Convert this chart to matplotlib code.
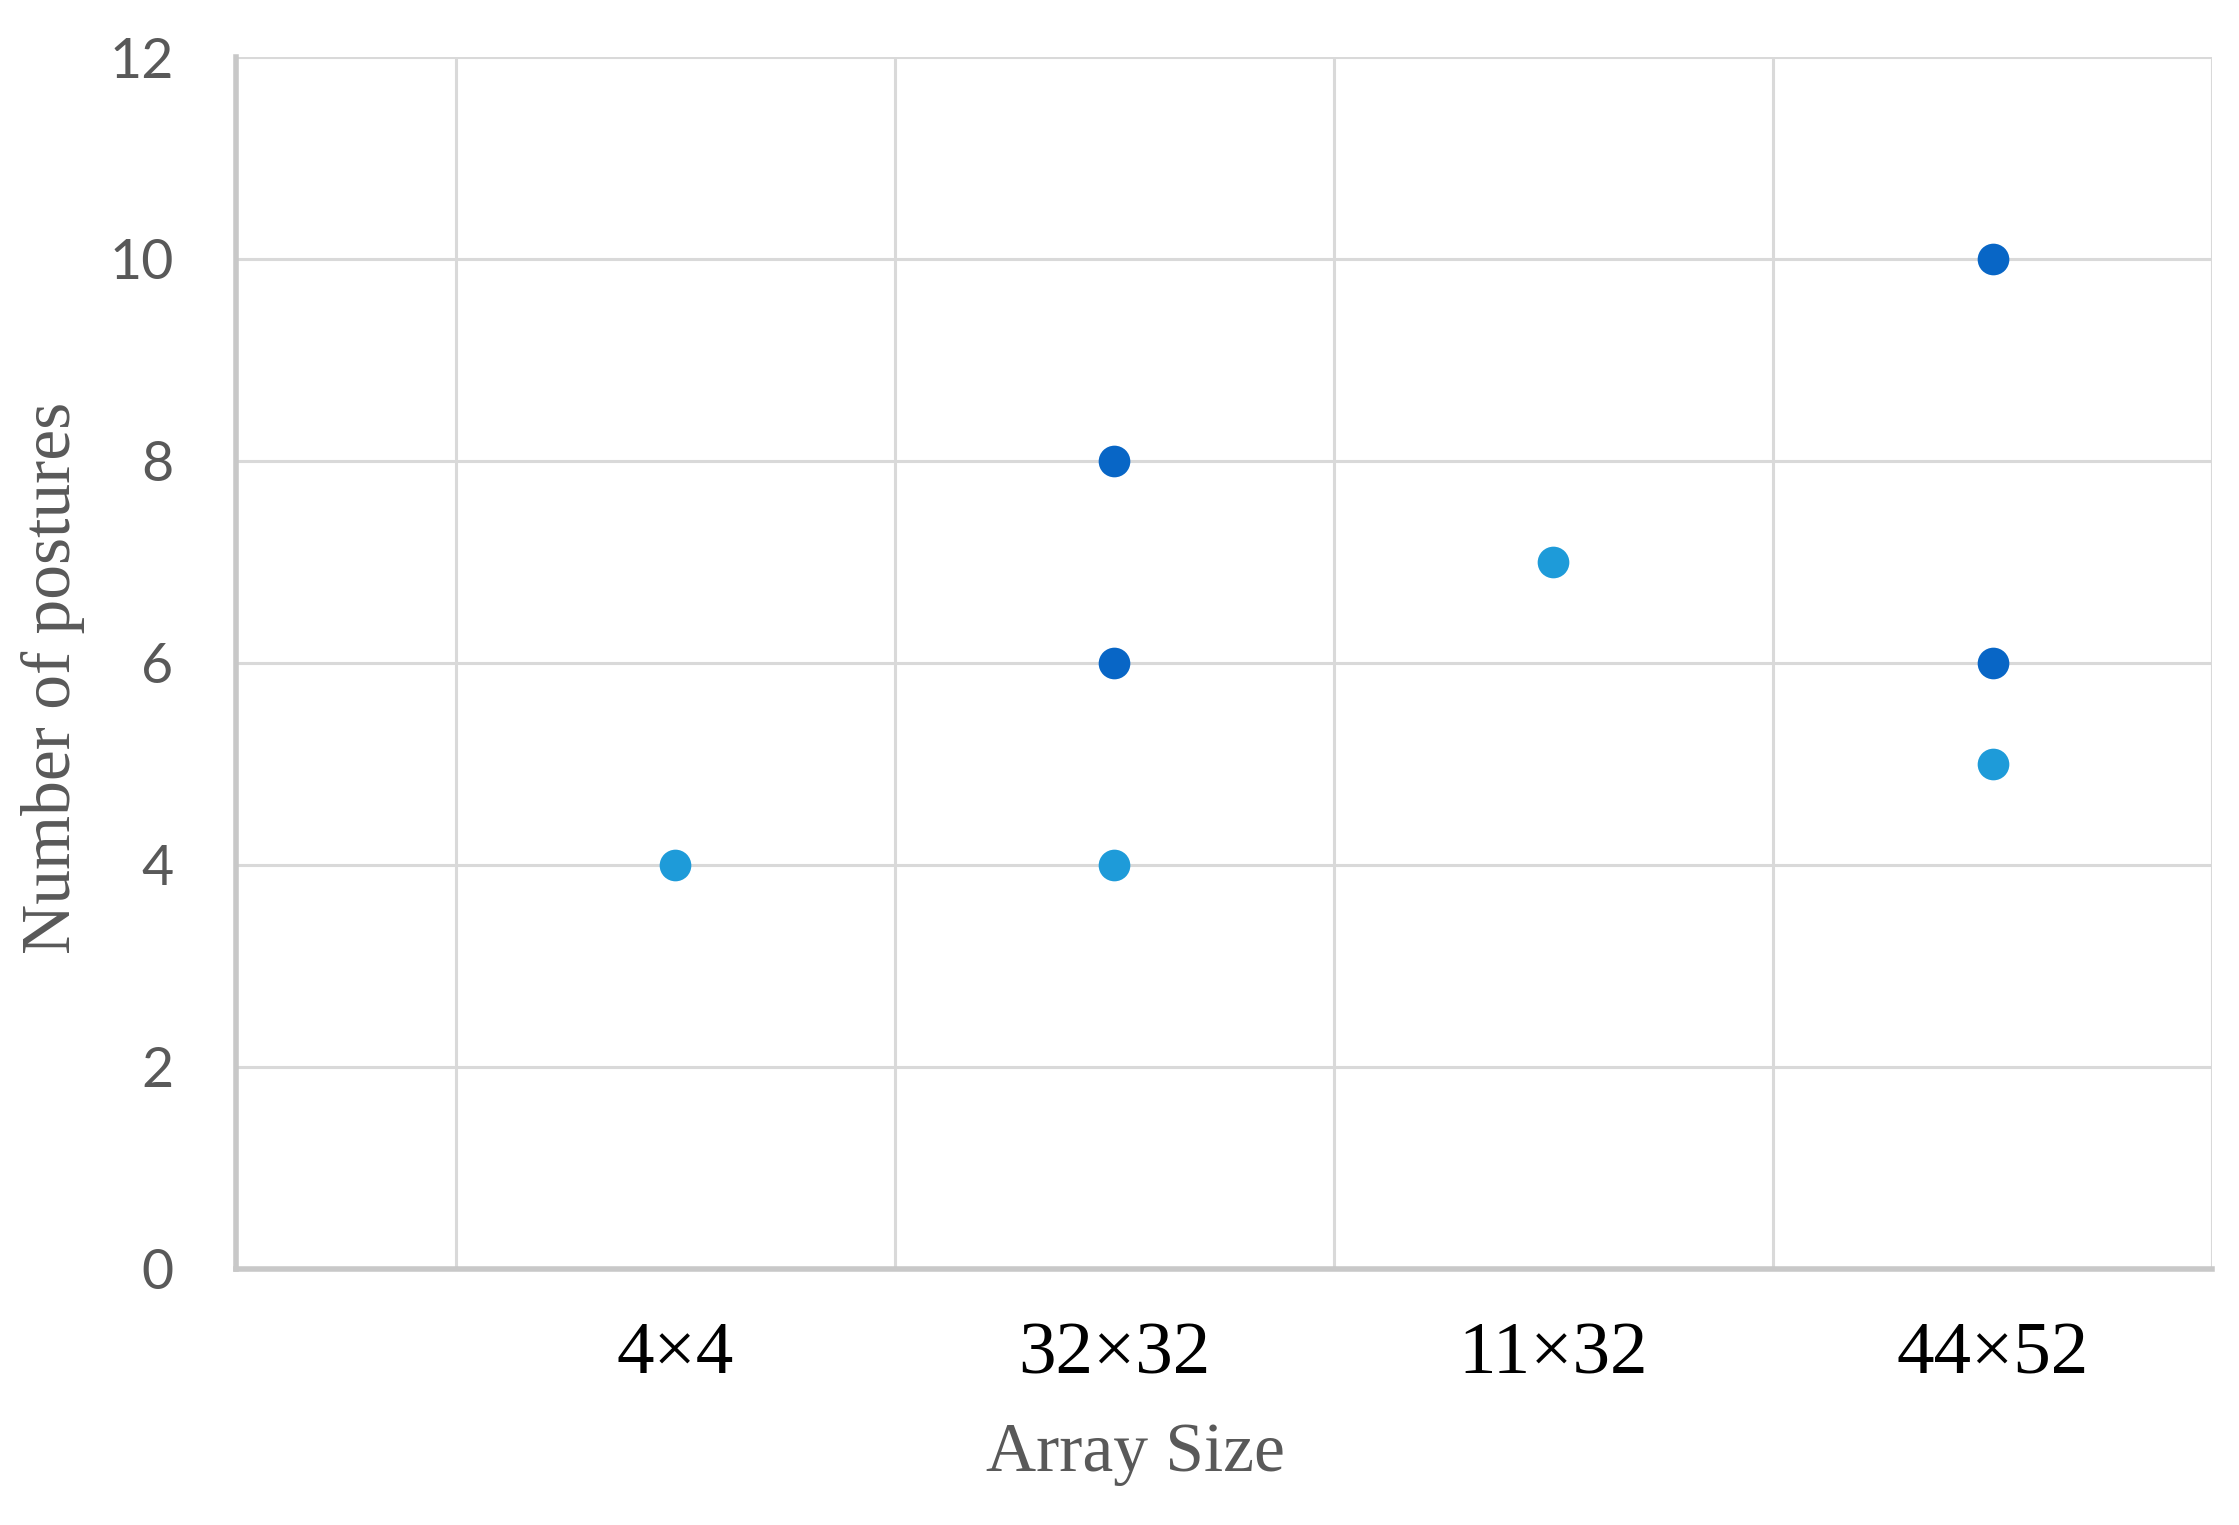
import matplotlib
matplotlib.use("Agg")
import matplotlib.pyplot as plt

categories = ["4×4", "32×32", "11×32", "44×52"]
cat_positions = [2, 4, 6, 8]

dark_x = ["32×32", "32×32", "44×52", "44×52"]
dark_y = [8, 6, 10, 6]
light_x = ["4×4", "32×32", "11×32", "44×52"]
light_y = [4, 4, 7, 5]

y_ticks = [0, 2, 4, 6, 8, 10, 12]

DARK = "#0866C6"
LIGHT = "#1E9BD9"
GRID = "#d9d9d9"
SPINE = "#c8c8c8"
GRAYTXT = "#595959"

pos = dict(zip(categories, cat_positions))

fig = plt.figure(figsize=(22.39, 15.25), dpi=100)
ax = fig.add_axes([0.1054, 0.168, 0.8826, 0.7946])

ax.set_xlim(0, 9)
ax.set_ylim(0, 12)

# grid
ax.set_xticks(range(0, 10), minor=True)
ax.set_yticks(y_ticks)
ax.grid(True, which="minor", axis="x", color=GRID, linewidth=2.2)
ax.grid(True, which="major", axis="y", color=GRID, linewidth=2.2)
ax.set_axisbelow(True)
ax.tick_params(which="minor", length=0)

ax.scatter([pos[c] for c in light_x], light_y, s=520, color=LIGHT, zorder=3, linewidths=0)
ax.scatter([pos[c] for c in dark_x], dark_y, s=520, color=DARK, zorder=3, linewidths=0)

ax.set_xticks(cat_positions)
ax.set_xticklabels(categories, fontfamily="Liberation Serif", fontsize=54, color="black")
ax.set_yticklabels([str(t) for t in y_ticks], fontfamily="Lato", fontsize=40, color=GRAYTXT)
ax.tick_params(axis="x", length=0, pad=38)
ax.tick_params(axis="y", length=0, pad=45)

for s in ["top", "right"]:
    ax.spines[s].set_visible(False)
ax.spines["left"].set_color(SPINE)
ax.spines["left"].set_linewidth(4)
ax.spines["bottom"].set_color(SPINE)
ax.spines["bottom"].set_linewidth(4)

ax.set_xlabel("Array Size", fontfamily="Liberation Serif", fontsize=50, color=GRAYTXT, va="center")
ax.xaxis.set_label_coords(0.455, -0.153)
ax.set_ylabel("Number of postures", fontfamily="Liberation Serif", fontsize=50, color=GRAYTXT, va="center")
ax.yaxis.set_label_coords(-0.0924, 0.488)

fig.savefig("out.png", dpi=100, facecolor="white")
